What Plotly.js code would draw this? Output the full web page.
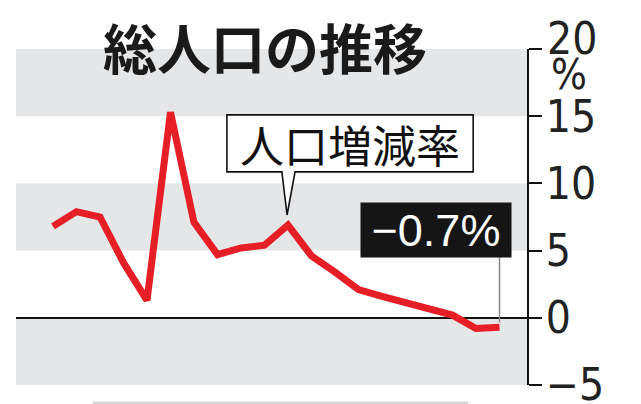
<!DOCTYPE html>
<html>
<head>
<meta charset="utf-8">
<script src="https://cdn.plot.ly/plotly-3.0.1.min.js"></script>
<style>
	body{margin:0;background:#fff;}
	#graph{width:641px;height:404px;}
</style>
</head>
<body>
<div id="graph"></div>
<script>
//DATA
var years = [1925, 1930, 1935, 1940, 1945, 1950, 1955, 1960, 1965, 1970,
	1975, 1980, 1985, 1990, 1995, 2000, 2005, 2010, 2015, 2020];
var rate = [6.8, 7.9, 7.5, 4.1, 1.3, 15.3, 7.1, 4.7, 5.2, 5.4,
	6.9, 4.6, 3.4, 2.1, 1.6, 1.1, 0.7, 0.2, -0.8, -0.7];
var tickVals = [-5, 0, 5, 10, 15, 20];
var tickText = ['\u22125', '0', '5', '10', '15', ''];
var bands = [[15, 20], [5, 10], [-5, 0]];

var titleText = '総人口の推移';
var seriesLabel = '人口増減率';
var lastLabel = '\u22120.7%';

//STYLE
var red = '#e61e26';
var bandColor = '#e5e6e8';
var numFont = '"Liberation Sans Narrow", "DejaVu Sans Condensed", sans-serif';
var jpFont = '"Noto Sans CJK JP", sans-serif';

var canvas = document.getElementById('graph');

function bandShapes(){
	let out = [];
	for(let i = 0; i < bands.length; i++){
		out.push({
			type: 'rect', layer: 'below',
			xref: 'paper', yref: 'y',
			x0: 0, x1: 1, y0: bands[i][0], y1: bands[i][1],
			fillcolor: bandColor, line: {width: 0}
		});
	}
	return out;
}

// speech bubble round the series label, pointer hangs onto the 1975 point
function calloutShape(){
	let k = years.indexOf(1975);
	let tx = years[k] - 0.2, ty = rate[k] + 0.75;
	let L = 1962.0, R = 2014.4, T = 15.1, B = 10.86;
	let bl = tx - 1.1, br = tx + 1.7;
	let p = 'M' + L + ',' + T + ' L' + R + ',' + T + ' L' + R + ',' + B +
		' L' + br + ',' + B + ' L' + tx + ',' + ty + ' L' + bl + ',' + B +
		' L' + L + ',' + B + ' Z';
	return {
		type: 'path', layer: 'above', xref: 'x', yref: 'y', path: p,
		fillcolor: '#fff', line: {color: '#111', width: 1.6}
	};
}

function create(){
	let n = years.length - 1;

	let trace = {
		x: years, y: rate,
		mode: 'lines', type: 'scatter',
		line: {color: red, width: 7},
		hoverinfo: 'skip'
	};

	let shapes = bandShapes();
	shapes.push(calloutShape());
	// leader from the black label down to the last point
	shapes.push({
		type: 'line', layer: 'above', xref: 'x', yref: 'y',
		x0: years[n], x1: years[n], y0: 4.6, y1: rate[n] + 0.35,
		line: {color: '#8a8a8a', width: 1.5}
	});
	// edge of the table below the chart
	shapes.push({
		type: 'line', xref: 'paper', yref: 'paper',
		x0: 0.15, x1: 0.885, y0: -0.053, y1: -0.053,
		line: {color: '#cfcfcf', width: 2}
	});

	let annotations = [
		{
			text: '<b>' + titleText + '</b>',
			xref: 'paper', yref: 'paper', x: 0.487, y: 1.008,
			xanchor: 'center', yanchor: 'middle', showarrow: false,
			font: {family: jpFont, size: 54, color: '#1a1a1a'}
		},
		{
			text: seriesLabel,
			xref: 'x', yref: 'y', x: 1988.2, y: 12.95,
			xanchor: 'center', yanchor: 'middle', showarrow: false,
			font: {family: jpFont, size: 44, color: '#111'}
		},
		{
			text: lastLabel,
			xref: 'x', yref: 'y', x: 2006.5, y: 6.55,
			xanchor: 'center', yanchor: 'middle', showarrow: false,
			width: 150, height: 54, bgcolor: '#151515', borderpad: 0,
			font: {family: '"Liberation Sans", sans-serif', size: 45, color: '#fff'}
		},
		{
			text: '20',
			xref: 'paper', yref: 'paper', x: 1.035, y: 1.03,
			xanchor: 'left', yanchor: 'middle', showarrow: false,
			font: {family: numFont, size: 44, color: '#222'}
		},
		{
			text: '%',
			xref: 'paper', yref: 'paper', x: 1.043, y: 0.925,
			xanchor: 'left', yanchor: 'middle', showarrow: false,
			font: {family: numFont, size: 42, color: '#222'}
		}
	];

	let layout = {
		width: 641, height: 404,
		margin: {l: 16, r: 114, t: 49, b: 19},
		paper_bgcolor: '#fff', plot_bgcolor: 'rgba(0,0,0,0)',
		showlegend: false,
		xaxis: {
			range: [1917.13, 2025.85],
			visible: false, fixedrange: true
		},
		yaxis: {
			range: [-5, 20], side: 'right',
			showgrid: false, zeroline: true,
			zerolinecolor: '#111', zerolinewidth: 2,
			showline: true, linecolor: '#111', linewidth: 2,
			ticks: 'outside', ticklen: 13, tickwidth: 2, tickcolor: '#111',
			tickmode: 'array', tickvals: tickVals, ticktext: tickText,
			ticklabeloverflow: 'allow', ticklabelstandoff: -5,
			tickfont: {family: numFont, size: 44, color: '#222'},
			fixedrange: true
		},
		shapes: shapes,
		annotations: annotations
	};

	Plotly.newPlot(canvas, [trace], layout, {displayModeBar: false, staticPlot: true});
}

create();
</script>
</body>
</html>
